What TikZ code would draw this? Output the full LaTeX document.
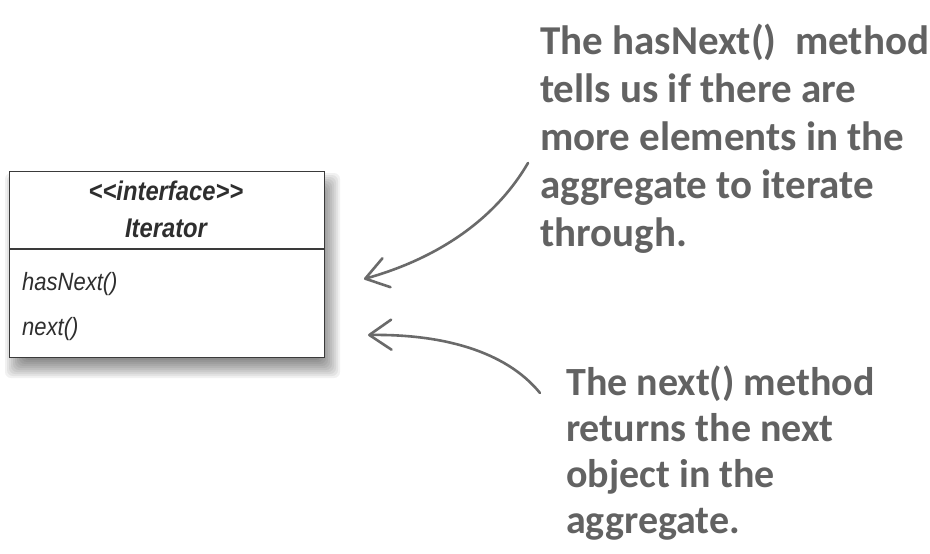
\documentclass[tikz,border=0pt]{standalone}
\usepackage{fontspec}
\newfontfamily\umlfont[FakeStretch=0.88]{Liberation Sans}
\newfontfamily\handfont{Carlito}
\usetikzlibrary{arrows.meta}

\definecolor{boxline}{HTML}{3A3A3A}
\definecolor{umltext}{HTML}{2E2E2E}
\definecolor{pencil}{HTML}{626262}
\definecolor{arrowgray}{HTML}{6A6A6A}

\begin{document}
\begin{tikzpicture}[x=1pt, y=-1pt,
  umlbox/.style={draw=boxline, line width=1.4pt, fill=white, inner sep=0pt},
  stereo/.style={text=umltext, inner sep=0pt, font={\umlfont\bfseries\itshape\fontsize{27}{30}\selectfont}},
  method/.style={text=umltext, inner sep=0pt, font={\umlfont\itshape\fontsize{25}{28}\selectfont}},
  note/.style={text=pencil, align=left, inner sep=0pt, font={\handfont\bfseries\fontsize{41}{48}\selectfont}},
  scribble/.style={draw=arrowgray, line width=2.6pt, line cap=round,
    -{Straight Barb[length=22pt, width=30pt, line width=2.6pt, round]}}]
  \useasboundingbox (0,0) rectangle (930,554);
  \fill[white] (0,0) rectangle (930,554);

  % soft drop shadow under the interface box
  \foreach \r in {-10,-8,...,10}
    \fill[black, opacity=0.055, rounded corners=6pt] (15-\r,183-\r) rectangle (330+\r,368+\r);

  % the interface box and its compartments
  \node[umlbox, anchor=north west, minimum width=315pt, minimum height=186pt] (iface) at (9,171) {};
  \draw[boxline, line width=1.2pt] (iface.west |- 0,249) -- (iface.east |- 0,249);
  \node[stereo, anchor=base] (stereotype) at (166,200) {<<interface>>};
  \node[stereo, anchor=base] (classname) at (166,237) {Iterator};
  \node[method, anchor=base west] (mHasNext) at (22,290) {hasNext()};
  \node[method, anchor=base west] (mNext) at (22,335) {next()};

  % handwritten notes (base = last line)
  \node[note, anchor=base west] (noteHasNext) at (540,246)
    {The hasNext()\ \ method\\tells us if there are\\more elements in the\\aggregate to iterate\\through.};
  \node[note, anchor=base west, font={\handfont\bfseries\fontsize{40}{46}\selectfont}] (noteNext) at (566,533)
    {The next() method\\returns the next\\object in the\\aggregate.};

  % arrows from the notes back to the methods
  \coordinate (hasTail) at (528,163);
  \coordinate (hasTip) at (364,279);
  \coordinate (nextTail) at (540,393);
  \coordinate (nextTip) at (368,335);
  \draw[scribble] (hasTail) .. controls (490,228) and (425,262) .. (hasTip);
  \draw[scribble] (nextTail) .. controls (505,350) and (440,334) .. (nextTip);
\end{tikzpicture}
\end{document}
